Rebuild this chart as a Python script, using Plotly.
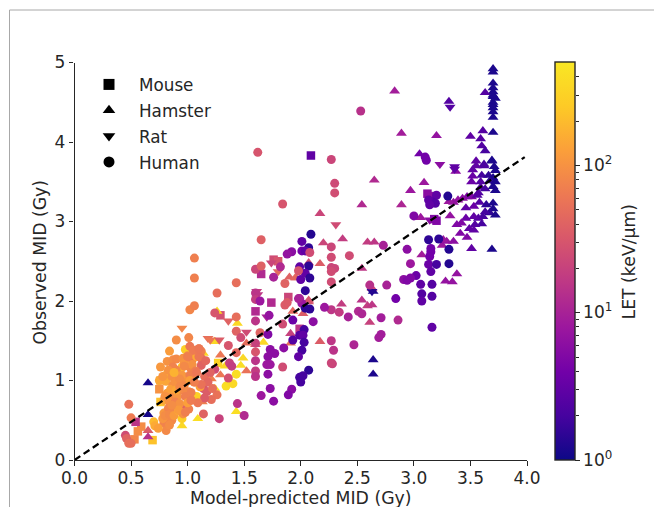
import numpy as np
import plotly.graph_objects as go

FONT = "DejaVu Sans"
INK = "#262626"
TICKS_LET = [1, 10, 100]
TICK_TEXT = ["10<sup>0</sup>", "10<sup>1</sup>", "10<sup>2</sup>"]
MINOR_LET = [2,3,4,5,6,7,8,9,20,30,40,50,60,70,80,90,200,300,400]
LET_MAX = 500
COLORS = ['#0d0887','#46039f','#7201a8','#9c179e','#bd3786','#d8576b','#ed7953','#fb9f3a','#fdca26','#f9e724']

mouse_x = [0.75,0.59,0.56,0.53,0.69,0.54,0.76,0.76,1.29,1.27,1.65,1.74,1.60,1.89,1.76,1.80,1.99,2.09,3.12,3.20,3.14,3.18]
mouse_y = [0.89,0.42,0.36,0.26,0.25,0.48,0.73,1.00,1.82,1.22,2.34,1.98,1.87,2.05,2.52,2.50,1.65,3.83,3.35,3.01,3.32,3.03]
mouse_let = [100,90,90,80,220,15,220,130,28,300,12,12,12,22,25,30,15,3,6,5,6,5]

hamster_x = [3.70,3.70,3.70,3.70,3.70,3.70,3.72,3.63,3.70,3.70,3.70,3.70,3.70,3.70,3.31,3.20,3.50,3.61,3.70,3.59,3.60,3.63,3.55,3.69,3.62,
 3.69,3.62,3.55,3.71,3.52,3.72,3.60,3.66,3.52,3.70,3.51,3.59,3.67,3.72,3.59,3.70,3.72,3.63,3.57,3.51,3.47,3.43,3.39,3.35,3.31,3.56,3.58,3.53,3.46,3.64,3.70,3.70,3.67,3.72,3.63,3.61,3.57,3.53,3.46,3.32,3.42,3.38,3.60,3.54,3.49,3.53,3.41,3.47,3.35,3.25,3.29,3.51,3.69,3.07,3.06,3.09,2.97,3.05,3.37,
 2.83,2.89,2.65,2.89,2.54,2.37,2.59,2.65,3.26,2.64,2.64,2.64,2.36,2.54,2.59,2.63,2.61,2.63,2.54,3.28,3.34,3.38,
 2.17,2.20,1.24,1.49,1.47,1.43,1.09,0.95,1.67,1.44,1.33,1.26,0.98,1.14,1.24,1.29,1.21,1.29,1.52,1.04,1.13,1.52,2.17,1.91,1.90,1.96,2.17,1.95,1.93,2.02,2.07,1.91,0.65,0.65,0.65,0.65,2.07,2.07,1.60]
hamster_y = [4.92,4.88,4.74,4.68,4.63,4.57,4.55,4.62,4.50,4.47,4.43,4.38,4.31,4.59,4.51,4.08,4.07,4.14,4.12,4.04,3.95,3.89,3.76,3.76,3.72,
 3.77,3.70,3.70,3.69,3.65,3.64,3.58,3.58,3.57,3.55,3.50,3.50,3.51,3.50,3.43,3.44,3.39,3.41,3.36,3.31,3.31,3.29,3.27,3.24,3.25,3.33,3.24,3.19,3.17,3.21,3.23,3.16,3.11,3.08,3.12,3.06,3.04,3.06,3.04,3.07,2.98,2.96,2.97,2.96,2.91,2.89,2.85,2.80,2.75,2.70,2.75,2.66,2.65,2.58,3.05,3.49,3.39,3.85,3.63,
 4.64,4.11,3.52,3.21,3.21,2.78,2.74,2.74,2.77,2.12,1.26,1.08,1.96,2.01,1.94,1.95,1.73,2.16,2.41,2.25,2.24,2.34,
 3.10,2.73,1.49,1.28,1.19,0.61,0.52,0.43,1.48,1.72,1.18,1.87,1.28,1.34,0.90,1.32,1.02,1.07,1.12,0.73,0.73,1.47,1.49,1.47,2.30,2.29,2.47,2.29,1.87,1.84,1.99,1.59,0.97,0.57,0.37,0.29,2.48,2.01,1.45]
hamster_let = [1.2,1.2,1.2,1.2,1.2,1.2,1.2,2.5,1.2,1.2,1.2,1.2,1.2,1.2,2.5,7,3,2.5,1.2,2.5,2.5,2,3,1.2,2,
 1.2,2.2,3,1.2,3,1.2,2,1.5,3.5,1.2,3.5,2.5,1.5,1.2,2.5,1.2,1.2,2,2.5,5,5,6,7,7,8,2.5,2.5,3.5,3,1.5,1.2,1.2,1.5,1.2,2,2,2.5,3,3.5,7,5,5,2,2.5,3,3,5,5,6,8,7,3,1.2,9,8,8,8,4,6,
 9,9,12,11,12,18,18,16,8,1.2,1.2,1.2,18,15,18,16,20,22,16,7,7,7,
 22,22,350,350,400,400,400,350,350,350,350,350,300,300,350,60,70,60,55,80,70,50,35,50,40,35,35,45,45,35,30,20,1.1,1.1,35,14,25,30,30]

rat_x = [3.32,3.23,3.36,3.14,2.31,1.80,0.95,1.18,1.28,1.36,1.52,1.70,1.61,1.20,1.74,1.62,3.36,2.63]
rat_y = [4.44,3.72,3.69,3.02,2.96,2.37,1.66,1.53,1.51,1.75,1.61,1.80,2.12,1.51,2.48,2.08,3.66,2.12]
rat_let = [2.5,6,3,6,25,45,80,50,35,40,25,10,18,60,22,16,3,1.3]

human_x = [2.53,2.27,2.30,2.30,2.73,2.27,2.43,2.94,1.62,1.84,1.65,1.06,2.09,2.01,2.07,2.01,2.04,1.92,1.88,2.08,
 3.20,3.30,3.00,3.11,3.10,3.16,3.13,3.19,3.14,3.13,3.22,3.31,3.15,3.15,3.14,
 2.97,3.13,3.20,3.31,3.15,3.02,2.97,2.91,2.94,3.06,3.16,2.76,2.61,3.07,3.16,2.84,3.07,2.27,2.34,2.42,2.51,2.54,2.71,2.86,3.16,2.71,2.69,2.47,2.27,2.29,2.28,2.27,
 1.06,1.26,1.43,1.60,1.65,1.82,1.76,1.86,1.99,2.07,2.00,2.04,2.08,2.04,1.60,1.60,1.64,1.86,1.88,1.99,2.01,2.04,2.08,2.21,2.11,1.93,1.84,1.72,1.60,1.43,1.47,1.43,1.24,1.02,1.06,0.90,1.01,0.84,1.64,
 2.03,1.99,2.02,1.93,2.03,2.01,1.98,1.85,1.71,1.60,1.73,1.77,1.71,1.60,1.60,1.70,1.73,1.84,1.60,1.60,1.71,2.07,1.99,2.02,2.00,1.73,1.92,1.89,1.65,1.76,1.44,1.50,1.28,1.14,0.48,0.50,0.45,0.46,0.48,0.50,
 2.27,2.27,2.30,2.27,2.27,1.98,1.98,
 1.43,1.34,1.40,0.98,0.95,1.08,0.95,0.81,
 1.12,1.12,1.12,1.02,1.05,1.04,1.02,1.36,1.43,1.37,1.39,1.24,1.36,1.14,1.17,1.26,1.21,1.15,0.98,1.01,0.99,1.01,
 0.76,0.82,0.87,0.90,0.81,0.86,0.90,0.95,0.87,0.82,0.86,0.91,0.79,0.84,0.89,0.79,0.83,0.87,0.82,0.86,0.79,0.81,0.70,0.71,0.74,0.96,0.95,0.98,0.93,1.11,1.05,1.02,0.87,0.83,
 0.78,0.80,0.84,0.88,0.92,0.96,1.00,1.03,1.06,0.93,0.97,1.00,1.04,1.08,1.10,0.85,0.89,0.93,0.97,0.75,0.78,0.88,0.92,0.84,1.07,1.02,0.86,0.80,0.90,
 1.05,1.10,1.00,1.08,1.15,1.18,1.20,1.12,1.22,1.06,1.03,1.09,0.97,0.93,1.16,1.10,1.03,0.98]
human_y = [4.39,3.78,3.48,3.36,2.70,2.68,2.57,2.65,3.87,3.22,2.77,2.54,2.84,2.75,2.67,2.63,2.63,2.62,2.59,2.61,
 3.33,3.32,3.07,3.77,3.81,3.25,3.27,3.23,3.21,2.77,2.78,2.65,2.66,2.62,2.56,
 2.47,2.46,2.46,2.47,2.37,2.32,2.29,2.27,2.26,2.21,2.21,2.20,2.20,2.09,2.06,2.03,2.00,1.89,1.86,1.80,1.87,1.84,1.79,1.76,1.67,1.58,1.54,1.45,1.50,1.38,1.21,1.22,
 2.29,2.10,2.23,2.40,2.44,2.43,2.30,2.22,2.43,2.44,2.27,2.35,2.29,2.13,2.10,2.02,2.00,1.95,1.98,2.03,1.97,1.91,1.90,1.92,1.74,1.76,1.71,1.82,1.75,1.62,1.54,1.80,1.85,1.89,1.94,1.51,1.54,1.37,1.60,
 1.64,1.57,1.57,1.51,1.48,1.38,1.30,1.41,1.58,1.47,1.39,1.34,1.30,1.36,1.25,1.20,1.20,1.17,1.12,1.05,1.08,1.13,1.04,1.06,0.98,0.90,0.89,0.82,0.81,0.74,0.71,0.56,0.52,0.58,0.70,0.53,0.31,0.27,0.21,0.21,
 2.55,2.42,2.41,2.37,2.24,2.38,2.03,
 1.08,0.93,0.96,1.39,1.17,0.80,0.52,1.07,
 1.37,1.28,1.19,1.43,1.34,1.26,1.17,1.44,1.35,1.22,1.18,1.14,1.03,0.90,0.86,0.82,0.76,0.78,0.67,0.64,1.03,0.86,
 1.17,1.24,1.26,1.27,0.99,1.05,1.13,1.07,0.94,0.84,0.82,0.80,0.75,0.73,0.73,0.59,0.65,0.61,0.52,0.50,0.46,0.37,0.48,0.43,0.40,1.28,0.88,0.80,0.71,0.92,1.05,1.07,1.17,1.13,
 0.52,0.56,0.57,0.56,0.62,0.58,0.72,0.76,0.98,0.98,1.22,1.31,1.20,1.30,1.40,0.89,0.98,1.02,0.94,1.00,1.05,1.10,0.63,0.44,1.12,1.00,0.69,0.80,0.88,
 1.38,1.30,1.30,1.10,1.05,0.98,1.10,0.95,0.90,0.98,0.85,0.72,1.18,0.92,1.25,1.40,0.75,0.60]
human_let = [14,22,24,26,10,22,25,6,30,30,38,70,1.3,3,1.5,4,3,6,7,25,
 3,1.3,5,4,4,2.5,3,2.5,3,1.5,1.5,1.3,4,4,4,
 8,3.5,2,1.3,3,3.5,5,6,5,3,2.5,10,14,2.5,2.5,4,3,16,18,10,12,11,9,12,3,9,9,11,16,15,20,22,
 70,50,50,22,38,12,10,40,3,1.5,3,3,1.5,1.5,15,18,8,35,35,10,8,1.5,1.5,8,6,3.5,25,7,15,40,25,50,30,80,70,90,80,120,40,
 2,2.5,3,2.5,2,2,3,6,5,20,6,6,6,30,15,8,8,25,18,15,6,1.5,2,2,2,6,6,5,8,6,15,12,20,40,55,65,25,40,50,50,
 25,22,22,25,25,30,10,
 400,400,350,280,220,280,280,180,
 70,50,40,60,70,65,80,30,45,20,18,25,28,30,35,55,50,35,40,70,100,90,
 110,100,90,85,140,95,85,110,95,115,85,105,140,100,75,110,75,80,100,85,75,85,190,150,125,100,85,70,100,130,100,70,75,100,
 105,90,85,115,140,100,125,75,85,115,105,90,100,150,75,125,100,90,85,140,105,170,115,90,70,125,90,100,140,
 65,60,70,60,50,45,40,55,50,70,70,60,85,85,45,60,65,70]

line_x = [0.0, 3.98]
line_y = [0.0, 3.81]

species = [("square", 8.5, mouse_x, mouse_y, mouse_let),
           ("triangle-up", 9.5, hamster_x, hamster_y, hamster_let),
           ("triangle-down", 9.5, rat_x, rat_y, rat_let),
           ("circle", 9, human_x, human_y, human_let)]
legend_items = [("Mouse", "square", 11), ("Hamster", "triangle-up", 11),
                ("Rat", "triangle-down", 11), ("Human", "circle", 11)]

W, H = 654, 507
fig = go.Figure()
for sym, sz, xs, ys, lets in species:
    fig.add_trace(go.Scatter(
        x=xs, y=ys, mode="markers", showlegend=False, cliponaxis=False,
        marker=dict(symbol=sym, size=sz, color=np.log10(lets), coloraxis="coloraxis", line=dict(width=0)),
    ))
fig.add_trace(go.Scatter(x=line_x, y=line_y, mode="lines", showlegend=False,
                         line=dict(color="black", width=2.3, dash="7px,4px")))
for i, (name, sym, size) in enumerate(legend_items):
    fig.add_trace(go.Scatter(x=[None], y=[None], mode="markers", name=name, legendgroup=name,
                             marker=dict(symbol=sym, size=size, color="black")))
# second axis carries the colour bar's minor ticks
fig.add_trace(go.Scatter(x=[None], y=[None], yaxis="y2", showlegend=False, hoverinfo="skip"))

axis_common = dict(showgrid=False, zeroline=False, showline=True, linecolor=INK, linewidth=1.4,
                   ticks="outside", ticklen=4.5, tickwidth=1.2, tickcolor=INK, automargin=False,
                   tickfont=dict(family=FONT, size=17, color=INK))
dom_y = [(H - 460) / H, (H - 62.5) / H]
title_font = dict(family=FONT, size=17.3, color=INK)
fig.update_layout(
    width=W, height=H, margin=dict(l=0, r=0, t=0, b=0, autoexpand=False), autosize=False,
    plot_bgcolor="white", paper_bgcolor="white",
    font=dict(family=FONT, size=17, color=INK),
    xaxis=dict(domain=[74.5 / W, 527 / W], range=[0, 4], tickmode="array", ticklabelstandoff=-2,
               tickvals=[0, .5, 1, 1.5, 2, 2.5, 3, 3.5, 4],
               ticktext=["0.0", "0.5", "1.0", "1.5", "2.0", "2.5", "3.0", "3.5", "4.0"], **axis_common),
    yaxis=dict(domain=dom_y, range=[0, 5], tickmode="array", tickvals=[0, 1, 2, 3, 4, 5], **axis_common),
    yaxis2=dict(domain=dom_y, range=[0, float(np.log10(LET_MAX))], overlaying="y", anchor="free",
                position=575 / W, side="right", showgrid=False, zeroline=False, showline=False,
                tickmode="array", tickvals=list(np.log10(MINOR_LET)), ticks="outside", ticklen=2.6,
                tickwidth=1, tickcolor=INK, showticklabels=False),
    coloraxis=dict(
        colorscale=COLORS, cmin=0, cmax=float(np.log10(LET_MAX)),
        colorbar=dict(
            x=555 / W, xanchor="left", y=dom_y[0], yanchor="bottom", len=dom_y[1] - dom_y[0], lenmode="fraction",
            thickness=20, thicknessmode="pixels", xpad=0, ypad=0,
            outlinecolor=INK, outlinewidth=1.4,
            tickmode="array", tickvals=list(np.log10(TICKS_LET)), ticktext=TICK_TEXT,
            ticks="outside", ticklen=4.5, tickwidth=1.2, tickcolor=INK,
            tickfont=dict(family=FONT, size=17, color=INK),
        ),
    ),
    legend=dict(x=79 / W, xanchor="left", y=(H - 67) / H, yanchor="top", bgcolor="rgba(0,0,0,0)",
                itemwidth=50, tracegroupgap=1, font=dict(family=FONT, size=16.8, color=INK), itemclick=False),
    annotations=[
        dict(text="Model-predicted MID (Gy)", xref="paper", yref="paper", x=300.5 / W, y=(H - 497.5) / H,
             xanchor="center", yanchor="middle", showarrow=False, font=title_font),
        dict(text="Observed MID (Gy)", xref="paper", yref="paper", x=39.5 / W, y=(H - 262) / H,
             xanchor="center", yanchor="middle", showarrow=False, textangle=-90, font=title_font),
        dict(text="LET (keV/μm)", xref="paper", yref="paper", x=628 / W, y=(H - 261.5) / H,
             xanchor="center", yanchor="middle", showarrow=False, textangle=-90, font=title_font),
    ],
    shapes=[
        dict(type="line", xref="paper", yref="paper", x0=9.5 / W, x1=9.5 / W, y0=0, y1=(H - 10) / H,
             line=dict(color="#a8a8a8", width=1)),
        dict(type="line", xref="paper", yref="paper", x0=9.5 / W, x1=1, y0=(H - 10) / H, y1=(H - 10) / H,
             line=dict(color="#a8a8a8", width=1)),
    ],
)
fig.write_html("out.html", config={"displayModeBar": False},
               post_script="document.body.style.margin='0';document.body.style.overflow='hidden';")
